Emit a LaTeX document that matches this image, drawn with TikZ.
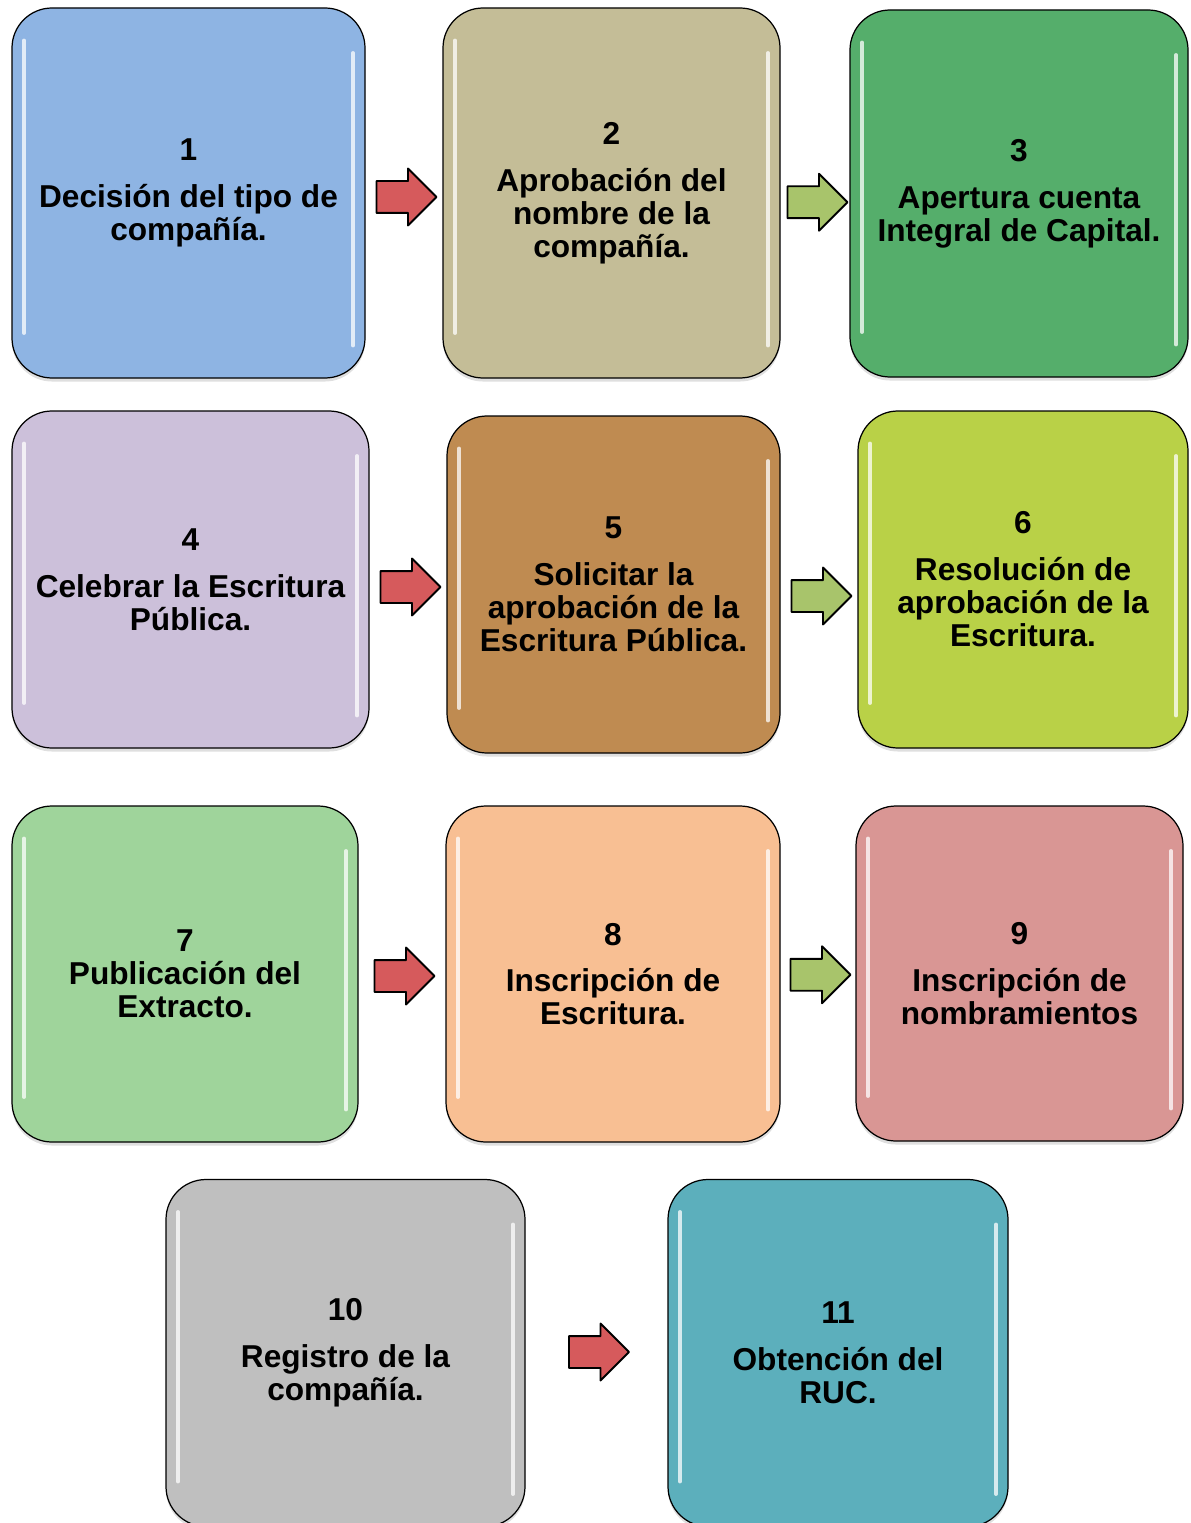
\documentclass[tikz,border=0pt]{standalone}
\usepackage{fontspec}
\setmainfont{Liberation Sans}
\usepackage{xcolor}
\usepackage{tikz}
\usetikzlibrary{shapes.arrows, positioning, calc, shadows}

\definecolor{cBlue}{HTML}{8EB4E3}
\definecolor{cTan}{HTML}{C4BD97}
\definecolor{cGreen}{HTML}{55AE6B}
\definecolor{cLilac}{HTML}{CCC0DA}
\definecolor{cBrown}{HTML}{BF8B51}
\definecolor{cLime}{HTML}{B9D147}
\definecolor{cMint}{HTML}{9FD49B}
\definecolor{cPeach}{HTML}{F8BF93}
\definecolor{cRose}{HTML}{D99694}
\definecolor{cGrey}{HTML}{BFBFBF}
\definecolor{cTeal}{HTML}{5CAFBC}
\definecolor{aRed}{HTML}{D65A5C}
\definecolor{aGreen}{HTML}{A8C46B}

\tikzset{
  %% Step box with glossy side strips
  sbox/.style={
    rectangle, rounded corners=0.8cm,
    draw=black, fill=#1, line width=0.7pt,
    align=center, inner sep=4pt,
    font=\fontsize{18}{18.8}\selectfont\bfseries,
    drop shadow={shadow xshift=0pt, shadow yshift=-2pt, opacity=0.25},
    path picture={
      \draw[white, opacity=0.75, line width=2.2pt, line cap=round]
        ([xshift=0.24cm, yshift=-0.65cm]path picture bounding box.north west)
        -- ([xshift=0.24cm, yshift=0.9cm]path picture bounding box.south west);
      \draw[white, opacity=0.75, line width=2.2pt, line cap=round]
        ([xshift=-0.24cm, yshift=-0.9cm]path picture bounding box.north east)
        -- ([xshift=-0.24cm, yshift=0.65cm]path picture bounding box.south east);
    }
  },
  sbox/.default=cBlue,
  %% Block arrow between steps
  barr/.style={
    single arrow, draw=black, fill=#1, line width=1.1pt, line join=round,
    minimum height=1.2cm, minimum width=1.1cm,
    inner sep=0.3cm, single arrow head extend=0.25cm,
    xshift=-0.11cm
  },
  barr/.default=aRed,
}

\begin{document}
\begin{tikzpicture}
  \useasboundingbox (0,0) rectangle (23.8,-30.46);

  %% Row 1
  \node[sbox=cBlue,  minimum width=7.06cm, minimum height=7.40cm] (b1)
       at (3.77,-3.86) {1\\[7.8pt]Decisión del tipo de\\compañía.};
  \node[sbox=cTan,   minimum width=6.74cm, minimum height=7.40cm] (b2)
       at (12.23,-3.86) {2\\[7.8pt]Aprobación del\\nombre de la\\compañía.};
  \node[sbox=cGreen, minimum width=6.76cm, minimum height=7.34cm] (b3)
       at (20.38,-3.87) {3\\[7.8pt]Apertura cuenta\\Integral de Capital.};

  %% Row 2
  \node[sbox=cLilac, minimum width=7.14cm, minimum height=6.74cm] (b4)
       at (3.81,-11.59) {4\\[7.8pt]Celebrar la Escritura\\Pública.};
  \node[sbox=cBrown, minimum width=6.66cm, minimum height=6.74cm] (b5)
       at (12.27,-11.69) {5\\[7.8pt]Solicitar la\\aprobación de la\\Escritura Pública.};
  \node[sbox=cLime,  minimum width=6.60cm, minimum height=6.74cm] (b6)
       at (20.46,-11.59) {6\\[7.8pt]Resolución de\\aprobación de la\\Escritura.};

  %% Row 3
  \node[sbox=cMint,  minimum width=6.92cm, minimum height=6.72cm] (b7)
       at (3.70,-19.48) {7\\Publicación del\\Extracto.};
  \node[sbox=cPeach, minimum width=6.68cm, minimum height=6.72cm] (b8)
       at (12.26,-19.48) {8\\[7.8pt]Inscripción de\\Escritura.};
  \node[sbox=cRose,  minimum width=6.54cm, minimum height=6.70cm] (b9)
       at (20.39,-19.47) {9\\[7.8pt]Inscripción de\\nombramientos};

  %% Row 4
  \node[sbox=cGrey,  minimum width=7.18cm, minimum height=6.94cm] (b10)
       at (6.91,-27.06) {10\\[7.8pt]Registro de la\\compañía.};
  \node[sbox=cTeal,  minimum width=6.80cm, minimum height=6.94cm] (b11)
       at (16.76,-27.06) {11\\[7.8pt]Obtención del\\RUC.};

  %% Arrows
  \node[barr=aRed]   (a12)   at ($(b1.east)!0.5!(b2.west)+(0,-0.08)$) {};
  \node[barr=aGreen] (a23)   at ($(b2.east)!0.5!(b3.west)+(0,-0.18)$) {};
  \node[barr=aRed]   (a45)   at ($(b4.east)!0.5!(b5.west)+(0,-0.10)$) {};
  \node[barr=aGreen] (a56)   at ($(b5.east)!0.5!(b6.west)+(0,-0.28)$) {};
  \node[barr=aRed]   (a78)   at ($(b7.east)!0.5!(b8.west)+(0,-0.04)$) {};
  \node[barr=aGreen] (a89)   at ($(b8.east)!0.5!(b9.west)+(0,-0.02)$) {};
  \node[barr=aRed]   (a1011) at ($(b10.east)!0.5!(b11.west)+(0,0.02)$) {};

\end{tikzpicture}
\end{document}
